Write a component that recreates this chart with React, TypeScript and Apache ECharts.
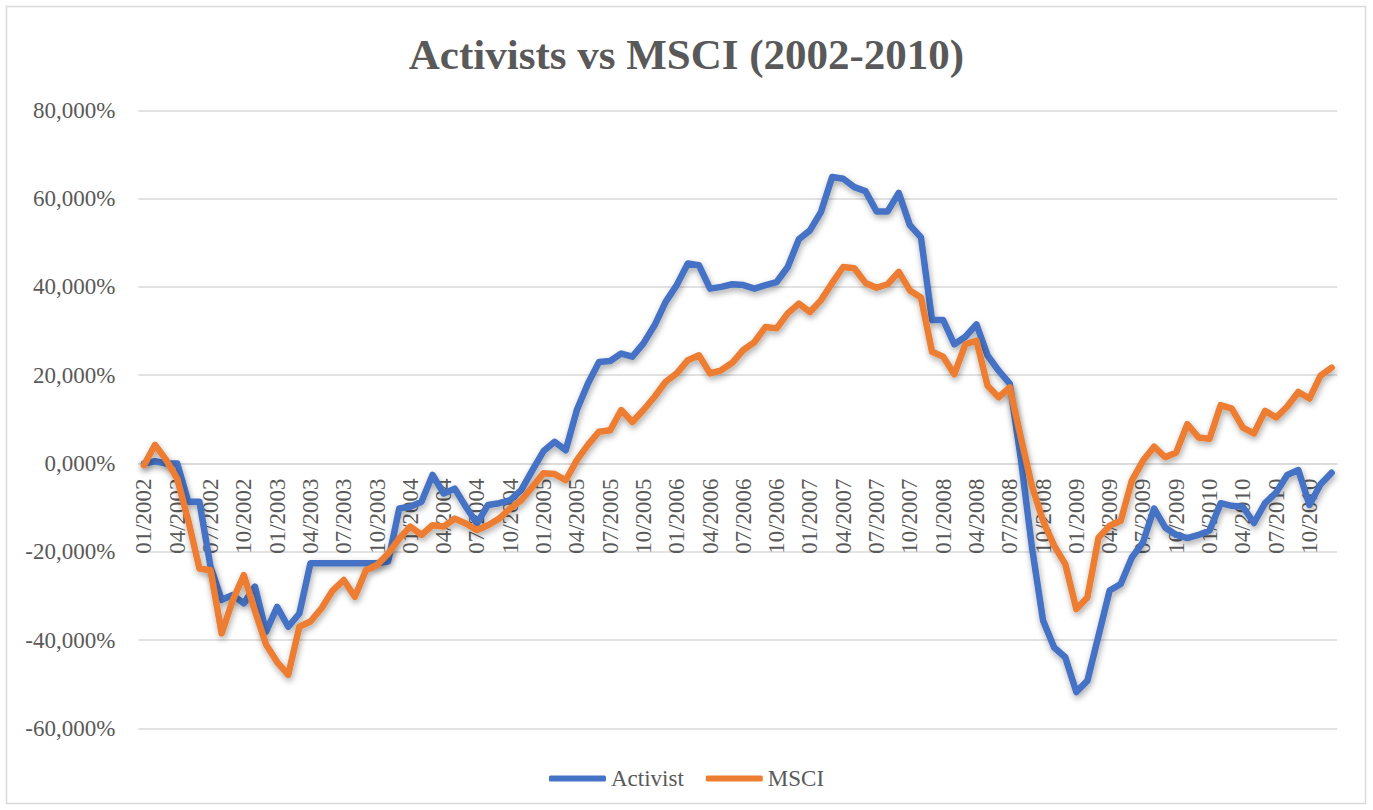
import React, { useEffect, useRef } from "react";
import * as echarts from "echarts";

const years = [2002, 2003, 2004, 2005, 2006, 2007, 2008, 2009, 2010];
const months = ["01", "02", "03", "04", "05", "06", "07", "08", "09", "10", "11", "12"];
const categories: string[] = [];
years.forEach((y) => months.forEach((m) => categories.push(`${m}/${y}`)));

const activist = [
  0, 0.5, 0, 0, -8.7, -8.7, -23.4, -30.9, -29.8, -31.7, -27.9, -38.1,
  -32.5, -37, -34, -22.6, -22.6, -22.6, -22.6, -22.6, -22.6, -22.6, -22.2, -10.2,
  -9.8, -8.7, -2.6, -6.8, -5.7, -9.8, -13.6, -9.4, -9, -8.3, -6, -1.5,
  2.8, 4.9, 3, 12.1, 18.1, 23, 23.2, 24.9, 24.2, 27.2, 31.3, 36.6,
  40.4, 45.3, 44.9, 39.6, 40, 40.6, 40.4, 39.6, 40.4, 41.1, 44.5, 50.8,
  52.8, 57, 64.9, 64.5, 62.6, 61.7, 57.1, 57.1, 61.3, 54, 51.2, 32.5,
  32.5, 27, 28.7, 31.5, 24.5, 21, 18.1, 1, -19, -35.6, -41.7, -43.9,
  -51.8, -49.2, -39, -28.8, -27.3, -21.3, -17.9, -10.2, -14.5, -16.2, -16.9, -16.2,
  -15.2, -9, -9.6, -9.8, -13.5, -9, -6.6, -2.6, -1.5, -9.4, -4.7, -2.1,
];

const msci = [
  -0.4, 4.2, 0.8, -3.5, -13, -23.8, -24.2, -38.5, -31, -25.3, -33.4, -41,
  -45, -47.9, -37, -35.8, -32.8, -28.8, -26.4, -30.2, -24.2, -23, -20.4, -17,
  -14.3, -16.2, -14, -14.3, -12.5, -13.6, -15.1, -14, -12.5, -10.2, -8.3, -5.3,
  -2.2, -2.4, -3.8, 0.75, 4.2, 7.2, 7.5, 12.1, 9.4, 12.1, 15.1, 18.5,
  20.4, 23.4, 24.5, 20.4, 21.1, 22.8, 25.7, 27.5, 30.9, 30.6, 34, 36.2,
  34.3, 37, 40.9, 44.5, 44.2, 40.9, 39.8, 40.6, 43.4, 39.2, 37.6, 25.3,
  24.2, 20.2, 27, 27.8, 17.6, 15, 17.2, 5.9, -5.1, -13, -18.6, -22.8,
  -33, -30.3, -16.8, -14.1, -13, -3.9, 0.6, 3.8, 1.4, 2.5, 8.9, 5.9,
  5.6, 13.2, 12.4, 8.1, 6.8, 11.9, 10.4, 12.9, 16.2, 14.7, 19.9, 21.7,
];

const FONT = "'Liberation Serif', 'Times New Roman', serif";
const TEXT = "#595959";
const GRID = "#d9d9d9";

const GRID_TOP = 110.3;
const GRID_BOTTOM = 81.7;
const Y_MIN = -60;
const Y_MAX = 80;
const CHART_H = 810;

export default function App() {
  const ref = useRef<HTMLDivElement>(null);
  useEffect(() => {
    if (!ref.current) return;
    const chart = echarts.init(ref.current, undefined, { renderer: "svg" });
    const plotH = CHART_H - GRID_TOP - GRID_BOTTOM;
    const zeroOffset = -(plotH * (0 - Y_MIN)) / (Y_MAX - Y_MIN);
    const lineShadow = {
      shadowColor: "rgba(0,0,0,0.35)",
      shadowBlur: 6,
      shadowOffsetX: 1,
      shadowOffsetY: 3,
    };
    chart.setOption({
      animation: false,
      backgroundColor: "#ffffff",
      title: {
        text: "Activists vs MSCI (2002-2010)",
        left: "center",
        top: 28,
        textStyle: { fontFamily: FONT, fontSize: 43, fontWeight: "bold", color: TEXT },
      },
      graphic: [
        {
          type: "rect",
          shape: { x: 6.5, y: 6.5, width: 1359, height: 797 },
          style: { fill: "none", stroke: GRID, lineWidth: 1.5 },
          silent: true,
        },
      ],
      legend: {
        bottom: 15,
        left: "center",
        icon: "roundRect",
        itemWidth: 57,
        itemHeight: 6,
        itemGap: 22,
        textStyle: { fontFamily: FONT, fontSize: 23, color: TEXT },
        data: ["Activist", "MSCI"],
      },
      grid: { left: 138.4, right: 35.8, top: GRID_TOP, bottom: GRID_BOTTOM },
      xAxis: {
        type: "category",
        data: categories,
        boundaryGap: true,
        position: "bottom",
        offset: zeroOffset,
        axisLine: { onZero: false, lineStyle: { color: GRID, width: 1.5 } },
        axisTick: { interval: 2, length: 5, lineStyle: { color: GRID, width: 1.5 } },
        axisLabel: {
          interval: 2,
          rotate: 90,
          margin: 15,
          fontFamily: FONT,
          fontSize: 23,
          color: TEXT,
        },
        splitLine: { show: false },
      },
      yAxis: {
        type: "value",
        min: Y_MIN,
        max: Y_MAX,
        interval: 20,
        axisLine: { show: false },
        axisTick: { show: false },
        axisLabel: {
          margin: 23,
          fontFamily: FONT,
          fontSize: 23,
          color: TEXT,
          formatter: (v: number) => v.toFixed(3).replace(".", ",") + "%",
        },
        splitLine: { lineStyle: { color: GRID, width: 1.5 } },
      },
      series: [
        {
          name: "Activist",
          type: "line",
          data: activist,
          showSymbol: false,
          color: "#4472C4",
          lineStyle: { width: 6.5, color: "#4472C4", cap: "round", join: "round", ...lineShadow },
        },
        {
          name: "MSCI",
          type: "line",
          data: msci,
          showSymbol: false,
          color: "#ED7D31",
          lineStyle: { width: 6.5, color: "#ED7D31", cap: "round", join: "round", ...lineShadow },
        },
      ],
    });
    return () => chart.dispose();
  }, []);
  return (
    <div
      ref={ref}
      style={{ position: "absolute", left: 0, top: 0, width: 1373, height: 810 }}
    />
  );
}
